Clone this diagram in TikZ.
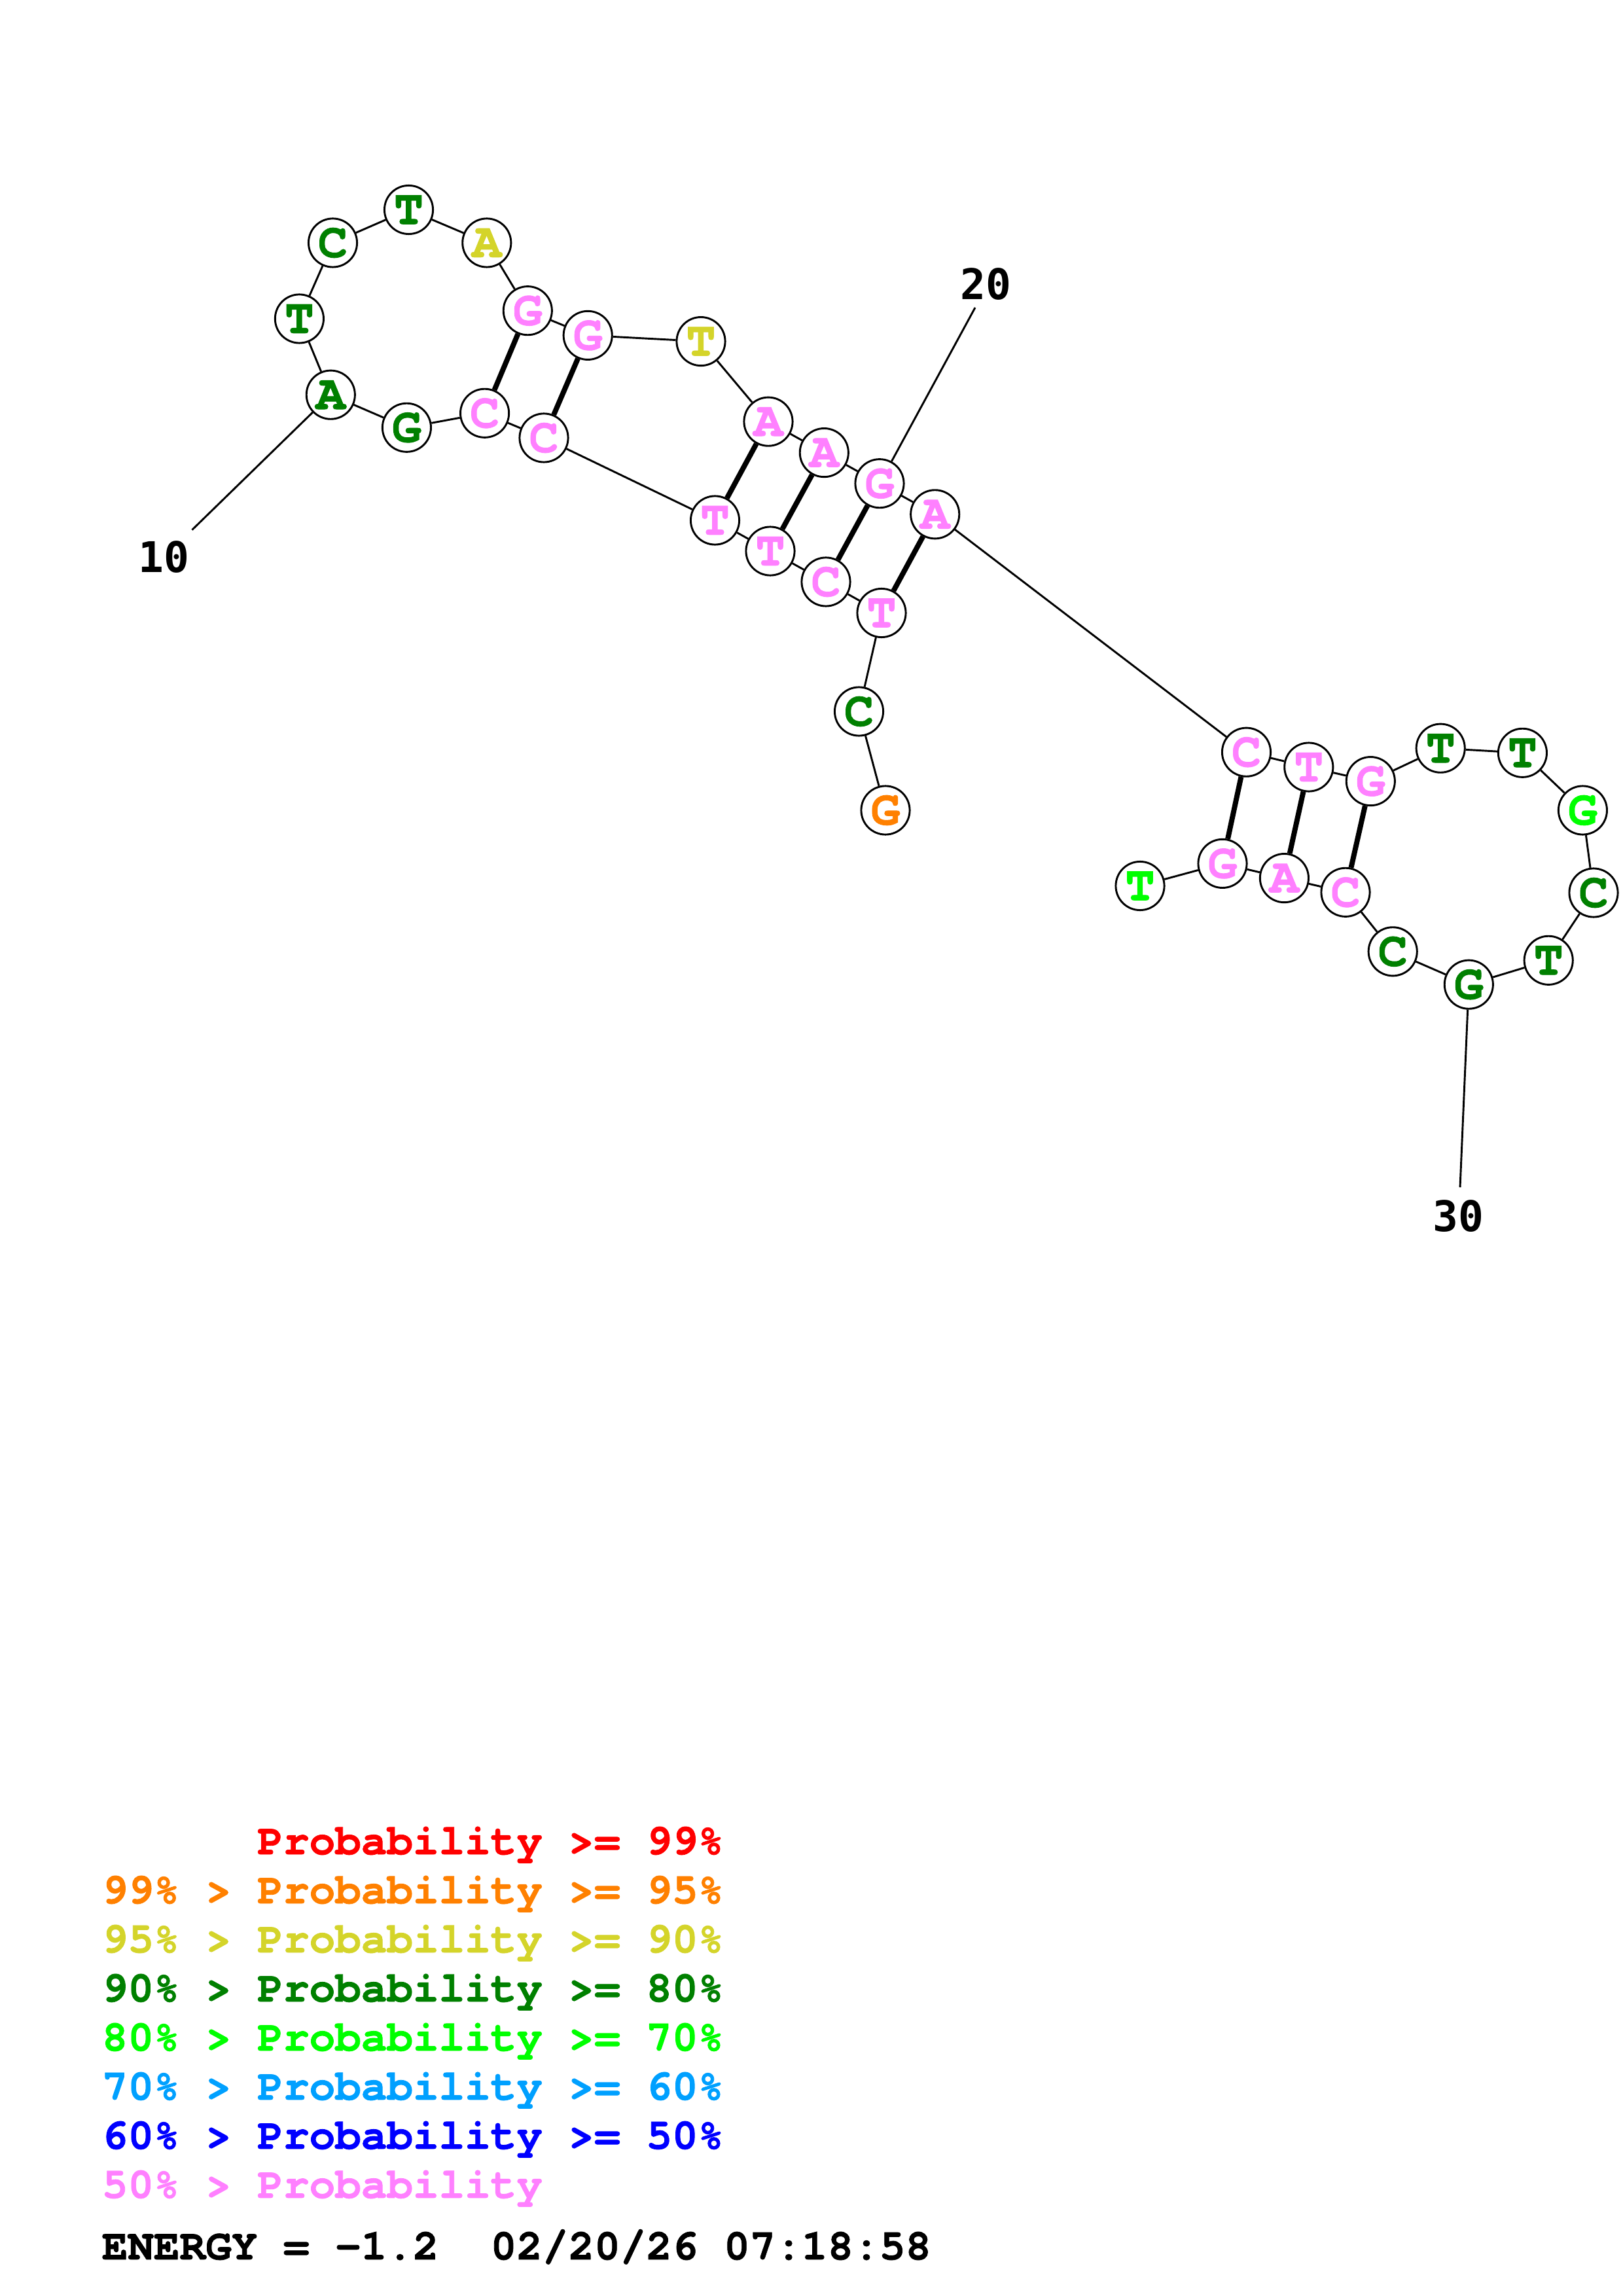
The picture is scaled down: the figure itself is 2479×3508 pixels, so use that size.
\documentclass[tikz,border=0pt]{standalone}
\usepackage{fontspec}
\newfontfamily\cour{TeX Gyre Cursor}[BoldFeatures={FakeBold=1.2}]
\newfontfamily\dvm{DejaVu Sans Mono}
\definecolor{pk}{RGB}{255,128,255}
\definecolor{dg}{RGB}{0,128,0}
\definecolor{yl}{RGB}{212,212,42}
\definecolor{og}{RGB}{255,128,0}
\definecolor{lg}{RGB}{0,255,0}
\definecolor{lb}{RGB}{0,160,255}
\definecolor{bl}{RGB}{0,0,255}
\definecolor{rd}{RGB}{255,0,0}
\begin{document}
\begin{tikzpicture}[x=0.24pt,y=-0.24pt,
  nt/.style={circle, draw=black, line width=0.7pt, fill=white, minimum size=17.8pt, inner sep=0pt,
     font=\cour\bfseries\fontsize{18}{18}\selectfont},
  bb/.style={line width=0.7pt},
  bp/.style={line width=1.9pt},
  lbl/.style={font=\dvm\bfseries\fontsize{15.5}{15.5}\selectfont, inner sep=0pt},
  leg/.style={anchor=base west, inner sep=0pt, font=\cour\bfseries\fontsize{15.84}{15.84}\selectfont}]
\useasboundingbox (0,0) rectangle (2479,3508);
\fill[white] (0,0) rectangle (2479,3508);
% nucleotides
\node[nt, text=og] (n1) at (1353,1238) {G};
\node[nt, text=dg] (n2) at (1312.5,1087) {C};
\node[nt, text=pk] (n3) at (1347,936.5) {T};
\node[nt, text=pk] (n4) at (1262,889) {C};
\node[nt, text=pk] (n5) at (1177,842) {T};
\node[nt, text=pk] (n6) at (1092.5,795) {T};
\node[nt, text=pk] (n7) at (831,669) {C};
\node[nt, text=pk] (n8) at (740.6,631.3) {C};
\node[nt, text=dg] (n9) at (621.4,653.3) {G};
\node[nt, text=dg] (n10) at (505.3,603.2) {A};
\node[nt, text=dg] (n11) at (457.4,487) {T};
\node[nt, text=dg] (n12) at (508.5,371) {C};
\node[nt, text=dg] (n13) at (624.5,320.5) {T};
\node[nt, text=yl] (n14) at (743.8,371) {A};
\node[nt, text=pk] (n15) at (806.3,474.7) {G};
\node[nt, text=pk] (n16) at (898.2,512.4) {G};
\node[nt, text=yl] (n17) at (1071,521.6) {T};
\node[nt, text=pk] (n18) at (1174,644.2) {A};
\node[nt, text=pk] (n19) at (1259.3,691.6) {A};
\node[nt, text=pk] (n20) at (1344,738.7) {G};
\node[nt, text=pk] (n21) at (1428.7,785.8) {A};
\node[nt, text=pk] (n22) at (1904.5,1149.2) {C};
\node[nt, text=pk] (n23) at (1999.8,1172) {T};
\node[nt, text=pk] (n24) at (2094.3,1193.6) {G};
\node[nt, text=dg] (n25) at (2201.2,1143.2) {T};
\node[nt, text=dg] (n26) at (2326.4,1150.3) {T};
\node[nt, text=lg] (n27) at (2418.4,1238) {G};
\node[nt, text=dg] (n28) at (2435,1364) {C};
\node[nt, text=dg] (n29) at (2366.2,1467.3) {T};
\node[nt, text=dg] (n30) at (2244.3,1504.2) {G};
\node[nt, text=dg] (n31) at (2128.2,1453.8) {C};
\node[nt, text=pk] (n32) at (2056,1363.3) {C};
\node[nt, text=pk] (n33) at (1962.4,1341.6) {A};
\node[nt, text=pk] (n34) at (1868,1319.4) {G};
\node[nt, text=lg] (n35) at (1742,1353.5) {T};
% backbone
\foreach \a/\b in {1/2,2/3,3/4,4/5,5/6,6/7,7/8,8/9,9/10,10/11,11/12,12/13,13/14,14/15,15/16,16/17,17/18,18/19,19/20,20/21,21/22,22/23,23/24,24/25,25/26,26/27,27/28,28/29,29/30,30/31,31/32,32/33,33/34,34/35}
  \draw[bb] (n\a) -- (n\b);
% base pairs
\foreach \a/\b in {15/8,16/7,18/6,19/5,20/4,21/3,22/34,23/33,24/32}
  \draw[bp] (n\a) -- (n\b);
% number labels
\node[lbl] (l10) at (250,851) {10};
\coordinate (e10) at (293.5,809.6);
\draw[bb] (n10) -- (e10);
\node[lbl] (l20) at (1506,434) {20};
\coordinate (e20) at (1490,470);
\draw[bb] (n20) -- (e20);
\node[lbl] (l30) at (2228,1858) {30};
\coordinate (e30) at (2231,1814);
\draw[bb] (n30) -- (e30);
% legend
\node[leg, text=rd] (g1) at (155,2833) {\phantom{99\%~>~}Probability~>=~99\%};
\node[leg, text=og] (g2) at (155,2908) {99\%~>~Probability~>=~95\%};
\node[leg, text=yl] (g3) at (155,2983) {95\%~>~Probability~>=~90\%};
\node[leg, text=dg] (g4) at (155,3058) {90\%~>~Probability~>=~80\%};
\node[leg, text=lg] (g5) at (155,3133) {80\%~>~Probability~>=~70\%};
\node[leg, text=lb] (g6) at (155,3208) {70\%~>~Probability~>=~60\%};
\node[leg, text=bl] (g7) at (155,3283) {60\%~>~Probability~>=~50\%};
\node[leg, text=pk] (g8) at (155,3358) {50\%~>~Probability};
\node[leg, text=black] (g9) at (155,3452) {ENERGY~=~-1.2~~02/20/26~07:18:58};
\end{tikzpicture}
\end{document}
